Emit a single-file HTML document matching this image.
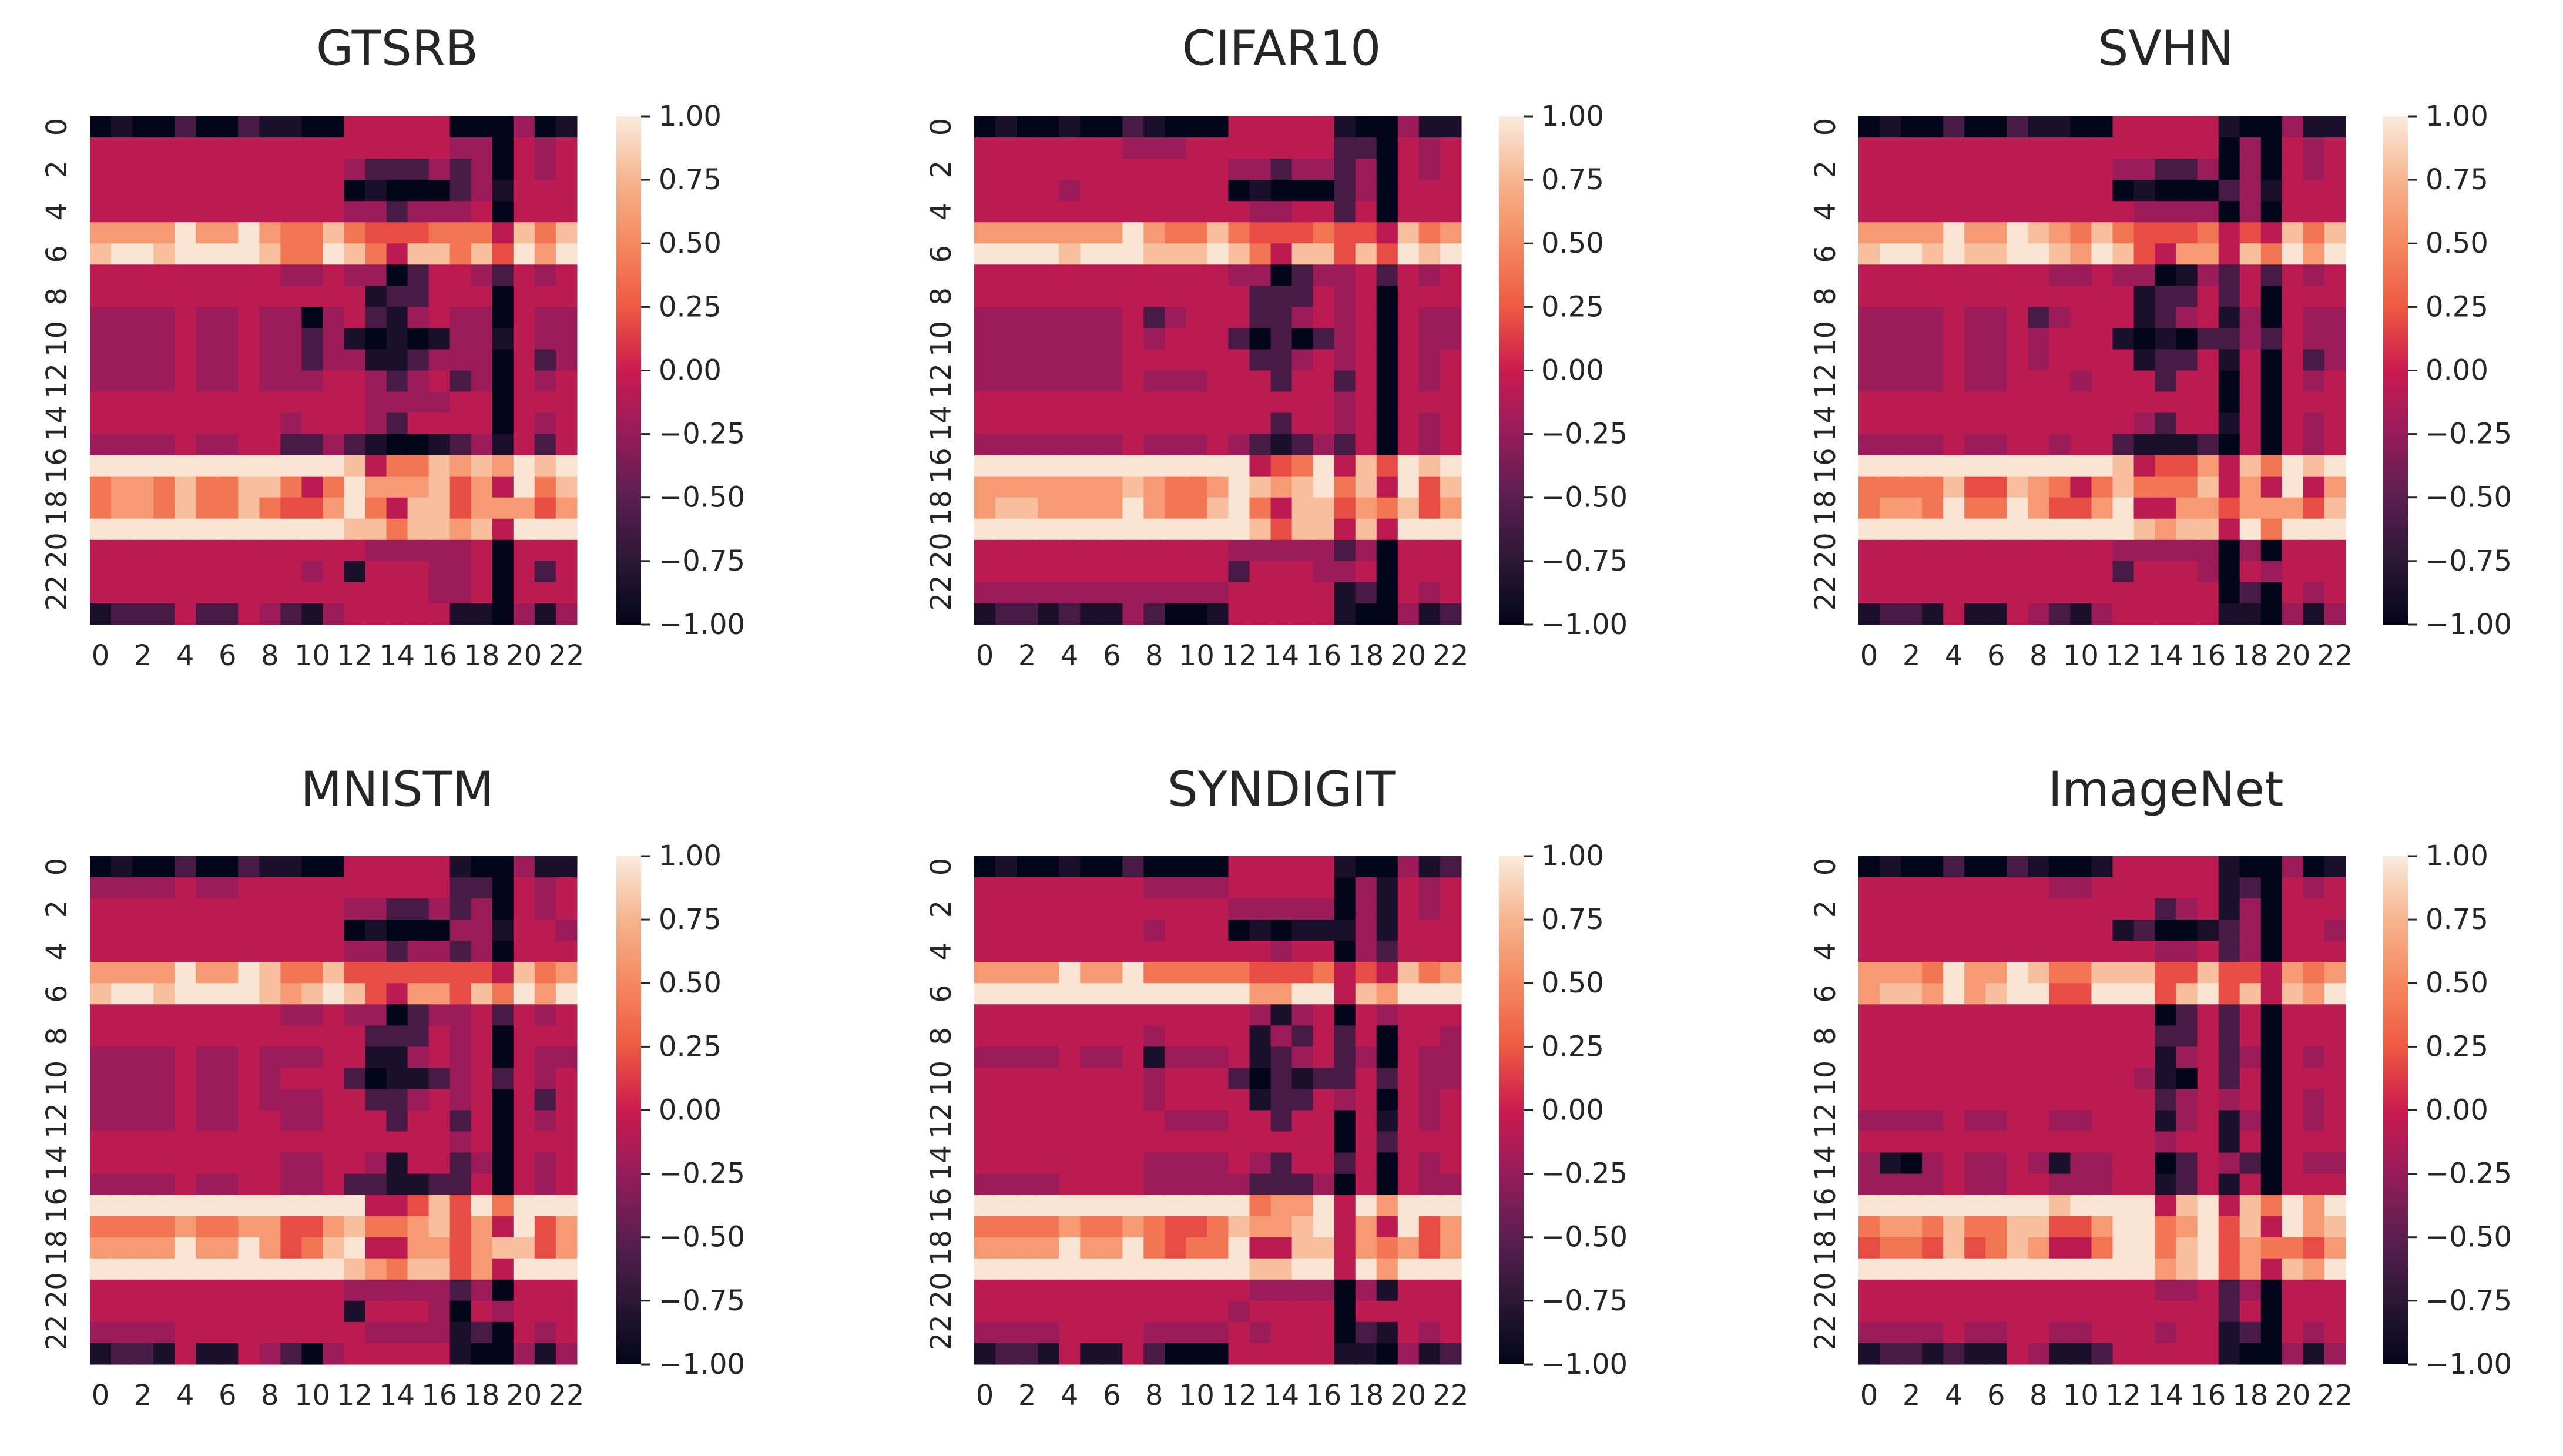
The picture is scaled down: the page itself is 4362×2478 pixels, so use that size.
<!DOCTYPE html>
<html>
<head>
<meta charset="utf-8">
<style>
  html, body { margin: 0; padding: 0; background: #ffffff; }
  svg { display: block; }
  text { font-family: "DejaVu Sans", "Liberation Sans", sans-serif; fill: #262626; }
</style>
</head>
<body>
<svg id="fig" xmlns="http://www.w3.org/2000/svg" width="4362" height="2478" viewBox="0 0 4362 2478">
  <rect x="0" y="0" width="4362" height="2478" fill="#ffffff"></rect>
</svg>
<script>
// ---- data ----
// value levels used by the per-cell codes (0..9)
const levelValues = [-1, -0.85, -0.6, -0.22, -0.07, 0.2, 0.4, 0.6, 0.8, 0.97];
const chartTitles = ["GTSRB", "CIFAR10", "SVHN", "MNISTM", "SYNDIGIT", "ImageNet"];
const xTickLabels = ["0","2","4","6","8","10","12","14","16","18","20","22"];
const yTickLabels = ["0","2","4","6","8","10","12","14","16","18","20","22"];
const cbarTicks = [1.0, 0.75, 0.5, 0.25, 0.0, -0.25, -0.5, -0.75, -1.0];

const gtsrbRows = [
"01002002110044444000301","44444444444444444330434","44444444444432223230434","44444444444401000231444",
"44444444444433233340444","77779779766865556664868","89989999866986488685979","44444444433433024432434",
"44444444444441224440444","33334334330342134330433","33334334332310101331433","33334334332331123330423",
"33334334333443234230434","44444444444443333440444","44444444434443244440434","33334334422321001231424",
"99999999999984668787989","67768668864697778574968","67768668655796488577757","99999999999988688784999",
"44444444444443333340444","44444444443414443340424","44444444444444443340444","12224224321344444110313"];
const cifar10Rows = [
"01001002100044444100311","44444443334444444220434","44444444444433233230434","44443444444401000230444",
"44444444444443344240444","77777779766865556554867","99998999888986488585989","44444444444433023342434",
"44444444444442224340444","33333334234442234340433","33333334344420202340433","33333334444442234340434",
"33333334333444244240434","44444444444444444340444","44444444444444244340434","33333334333432123240434",
"99999999999994569485989","77777778766798789684958","78877779766896488576857","99999999999998588484999",
"44444444444433333230444","44444444444424443340444","33333333333344444120434","12212113200144444100312"];
const svhnRows = [
"01002002110044444100311","44444444444444444030434","44444444444433223030434","44444444444401000231444",
"44444444444443333030444","77779779876865556454868","89989889987985477486979","44444444433433013242434",
"44444444444441224240444","33334334234441234130433","33334334344410102232433","33334334344441224140423",
"33334334443444244040434","44444444444444444040444","44444444444443244140434","33334334434421112040434",
"99999999999984557486989","66668558764686668474947","67769669755794477577758","99999999999998788496999",
"44444444444433333030444","44444444444424443043444","44444444444444444020434","12214114321344444110313"];
const mnistmRows = [
"01002002110044444100311","33334334444444444220434","44444444444433223230434","44444444444401000331443",
"44444444444433233230444","77779779866855555554867","89989999878985477586979","44444444433433023342434",
"44444444444442224340444","33334334333441134340433","33334334344420112342434","33334334333442234340424",
"33334334433444244240434","44444444444444444340444","44444444433443144230434","33334334433422112240434",
"99999999999994458596999","66667667755786678574957","77779779756894477578857","99999999999987688574999",
"44444444444433333230444","44444444444414443043444","33334444444443333120434","12214114320344444100313"];
const syndigitRows = [
"01001002000044444100312","44444444333344444031434","44444444444433333031434","44444444344401011131444",
"44444444444444344032444","77779779666665556454867","99999999999997799487999","44444444444443134043444",
"44444444344441324240443","33334334133341234230433","44444444344420212242433","44444444344441224340434",
"44444444433344244041434","44444444444444444042444","44444444333343244240434","33334444333332223040433",
"99999999999996779497999","66667667655687789474957","77779779656694488476757","99999999999998899497999",
"44444444444443333031444","44444444444434444044444","33334444333343444021434","12214114200044444110312"];
const imagenetRows = [
"01002002100144444100301","44444444433444444120434","44444444444444234130444","44444444444412001230443",
"44444444444444334230444","77769779866888558554767","78879789955999589584879","44444444444444024240444",
"44444444444444224240444","44444444444444134230434","44444444444443104240444","44444444444444234340434",
"33334334433444134130434","44444444444444344140444","31034334313344024320433","33334334433344124140444",
"99999999989999489486979","67768668855799679584978","56658568744699689576657","99999999999999789574879",
"44444444444444334230444","44444444444444444240444","33334334433444344120434","12212114311244444100313"];
const chartRows = [gtsrbRows, cifar10Rows, svhnRows, mnistmRows, syndigitRows, imagenetRows];

// ---- layout ----
const NS = "http://www.w3.org/2000/svg";
const svg = document.getElementById("fig");
const CELL = 36.04;
const NCOL = 23, NROW = 24;
const colX = [153, 1658, 3163];
const rowY = [198, 1457];
const cbarX = [1049, 2551, 4056];
const titleCX = [676, 2181, 3686];
const titleCY = [83, 1344];
const CBW = 42;

const rocketStops = [
  [0.0, [3,5,26]], [0.125, [43,23,55]], [0.25, [91,30,81]], [0.375, [150,28,91]],
  [0.5, [203,27,79]], [0.625, [238,90,66]], [0.75, [245,136,95]], [0.875, [246,180,142]], [1.0, [250,235,221]]
];
function rocket(v) {
  let t = (Math.max(-1, Math.min(1, v)) + 1) / 2;
  for (let i = 1; i < rocketStops.length; i++) {
    if (t <= rocketStops[i][0]) {
      const [t0, c0] = rocketStops[i-1], [t1, c1] = rocketStops[i];
      const f = (t - t0) / (t1 - t0);
      const c = c0.map((a, k) => Math.round(a + (c1[k] - a) * f));
      return "rgb(" + c.join(",") + ")";
    }
  }
  return "rgb(250,235,221)";
}
function mk(tag, attrs, parent) {
  const el = document.createElementNS(NS, tag);
  for (const k in attrs) el.setAttribute(k, attrs[k]);
  (parent || svg).appendChild(el);
  return el;
}

const defs = mk("defs", {});
const grad = mk("linearGradient", {id: "rocketGrad", x1: "0", y1: "1", x2: "0", y2: "0"}, defs);
for (let i = 0; i <= 40; i++) {
  const v = -1 + i * 0.05;
  mk("stop", {offset: (i / 40).toFixed(3), "stop-color": rocket(v)}, grad);
}

chartRows.forEach((rows, ci) => {
  const gx = colX[ci % 3], gy = rowY[Math.floor(ci / 3)];
  const slug = chartTitles[ci].toLowerCase();
  const g = mk("g", {});
  
  
  const xScale = c => gx + c * CELL;
  const yScale = r => gy + r * CELL;

  rows.forEach((rowStr, r) => {
    for (let c = 0; c < NCOL; c++) {
      const v = levelValues[parseInt(rowStr[c], 10)];
      const rect = mk("rect", {x: xScale(c).toFixed(2), y: yScale(r).toFixed(2),
        width: (CELL + 0.6).toFixed(2), height: (CELL + 0.6).toFixed(2), fill: rocket(v)}, g);
      
      
    }
  });

  const tt = mk("text", {x: titleCX[ci % 3], y: titleCY[Math.floor(ci / 3)], "text-anchor": "middle",
    "dominant-baseline": "central", "font-size": "82"});
  tt.textContent = chartTitles[ci];
  
  

  xTickLabels.forEach(lab => {
    const c = parseInt(lab, 10);
    const t = mk("text", {x: (xScale(c) + CELL / 2).toFixed(1), y: gy + NROW * CELL + 53,
      "text-anchor": "middle", "dominant-baseline": "central", "font-size": "48"});
    t.textContent = lab;
    
    
  });
  yTickLabels.forEach(lab => {
    const r = parseInt(lab, 10);
    const cy = yScale(r) + CELL / 2, cx = gx - 56;
    const t = mk("text", {x: cx, y: cy.toFixed(1), "text-anchor": "middle", "dominant-baseline": "central",
      "font-size": "48", transform: "rotate(-90 " + cx + " " + cy.toFixed(1) + ")"});
    t.textContent = lab;
    
    
  });

  const bx = cbarX[ci % 3], H = NROW * CELL;
  const bar = mk("rect", {x: bx, y: gy, width: CBW, height: H.toFixed(1), fill: "url(#rocketGrad)"});
  
  
  const cbY = v => gy + (1 - v) / 2 * H;
  cbarTicks.forEach(v => {
    const y = cbY(v);
    const tk = mk("line", {x1: bx + CBW, x2: bx + CBW + 16, y1: y.toFixed(1), y2: y.toFixed(1), stroke: "#262626", "stroke-width": "3"});
    
    
    const t = mk("text", {x: bx + CBW + 30, y: y.toFixed(1), "dominant-baseline": "central", "font-size": "48"});
    t.textContent = (v < 0 ? "\u2212" : "") + Math.abs(v).toFixed(2);
    
    
  });
});
</script>
</body>
</html>
